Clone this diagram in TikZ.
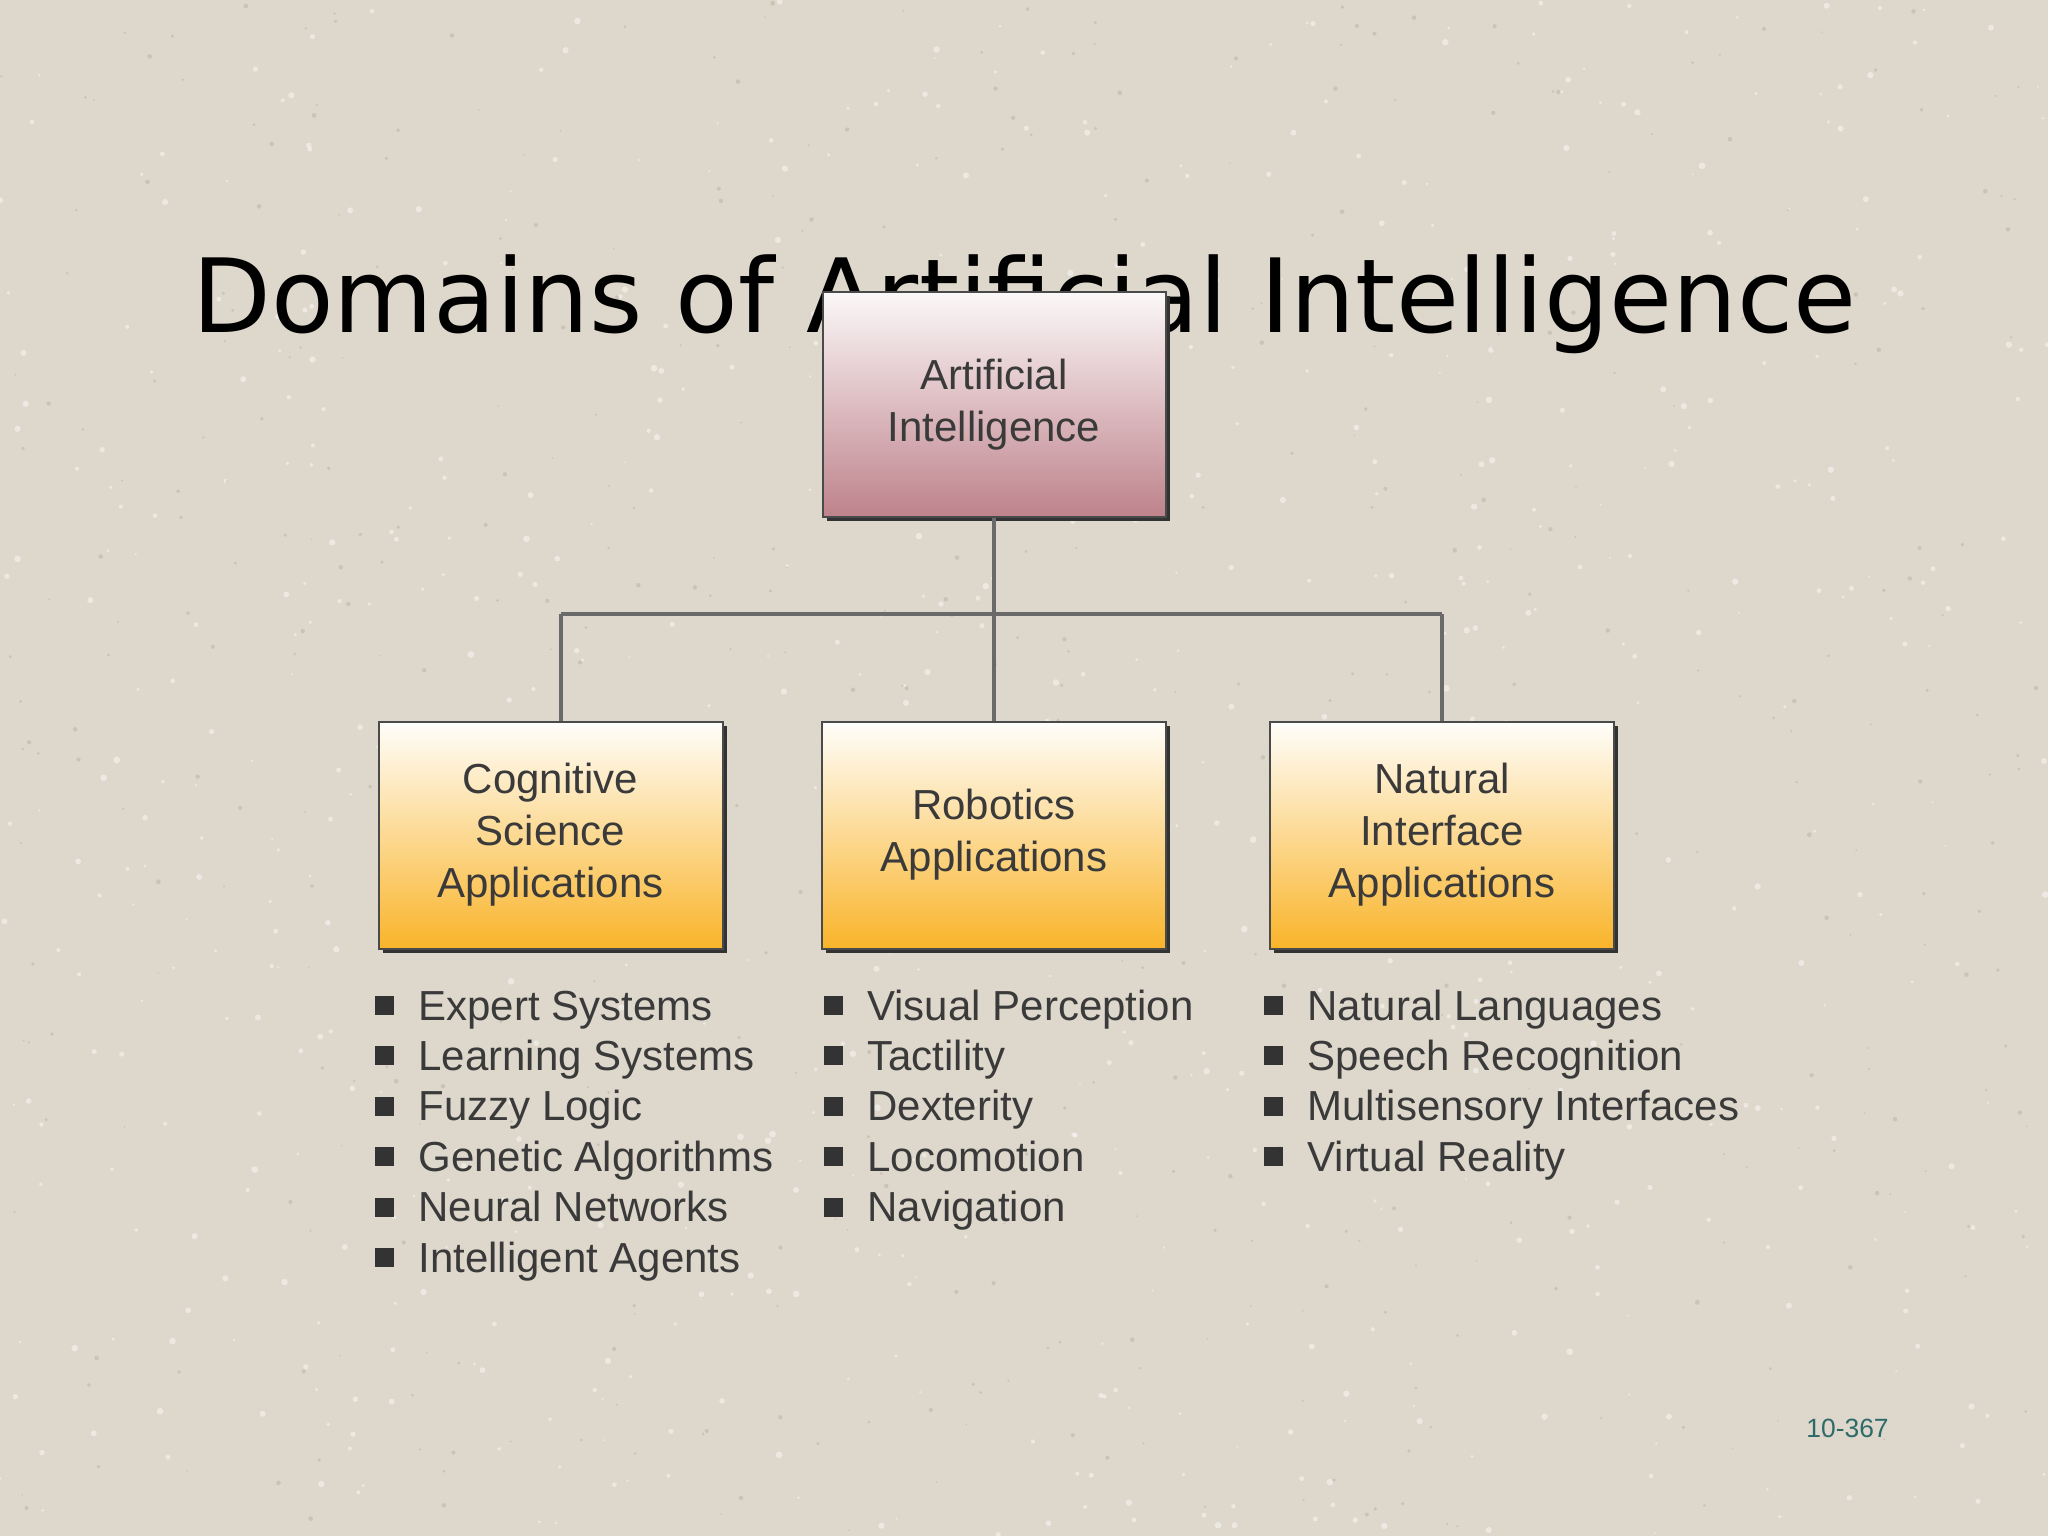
\documentclass[tikz,border=0pt]{standalone}
\usepackage{fontspec}
\setmainfont{Liberation Sans}
\newfontfamily\titlefont{DejaVu Sans}
\usetikzlibrary{shadows}
\definecolor{bgc}{HTML}{DED7CB}
\definecolor{speckd}{HTML}{B8B0A2}
\definecolor{txtc}{HTML}{3A3A3A}
\definecolor{bulc}{HTML}{333333}
\definecolor{linec}{HTML}{6A6A6A}
\definecolor{boxline}{HTML}{4A4A4A}
\definecolor{pinktop}{HTML}{FBF8F8}
\definecolor{pinkbot}{HTML}{BE828B}
\definecolor{ytop}{HTML}{FFFEFB}
\definecolor{ybot}{HTML}{F9B42A}
\definecolor{pagec}{HTML}{2E6A6A}
\newcommand{\bul}{{\color{bulc}\rule[2.5pt]{9.5pt}{9.5pt}}\hspace{12pt}}
\begin{document}
\begin{tikzpicture}[x=0.5pt,y=-0.5pt,
  box/.style={rectangle, draw=boxline, line width=1pt, minimum width=172pt,
    minimum height=113.5pt, inner sep=0pt, align=center, text=txtc,
    font=\fontsize{21}{26}\selectfont,
    drop shadow={shadow xshift=2.2pt, shadow yshift=-2.2pt, fill=black!80, opacity=1}},
  topbox/.style={box, top color=pinktop, bottom color=pinkbot},
  subbox/.style={box, top color=ytop, bottom color=ybot},
  conn/.style={draw=linec, line width=1.7pt},
  item/.style={anchor=base west, inner sep=0pt, text=txtc, font=\fontsize{21}{25}\selectfont},
]
\fill[bgc] (0,0) rectangle (2048,1536);
\useasboundingbox (0,0) rectangle (2048,1536);

% paper texture
\pgfmathsetseed{7}
\foreach \k in {1,...,700} {
  \pgfmathsetmacro{\px}{2048*rnd}
  \pgfmathsetmacro{\py}{1536*rnd}
  \pgfmathsetmacro{\pr}{0.5+1.2*rnd}
  \fill[white, opacity=0.45] (\px,\py) circle (\pr pt);
}
\foreach \k in {1,...,500} {
  \pgfmathsetmacro{\px}{2048*rnd}
  \pgfmathsetmacro{\py}{1536*rnd}
  \pgfmathsetmacro{\pr}{0.4+0.8*rnd}
  \fill[speckd, opacity=0.5] (\px,\py) circle (\pr pt);
}

\node[anchor=base west, inner sep=0pt, text=black, font=\titlefont\fontsize{51.2}{60}\selectfont] (title) at (192,332) {Domains of Artificial Intelligence};

\coordinate (barL) at (561,614);
\coordinate (barR) at (1442,614);

\node[topbox, minimum height=112.5pt, minimum width=171.5pt] (ai) at (994,404.5) {Artificial\\Intelligence};
\node[subbox] (cog) at (550.5,835) {Cognitive\\Science\\Applications};
\node[subbox] (rob) at (994,835) {Robotics\\Applications};
\node[subbox] (nat) at (1442,835) {Natural\\Interface\\Applications};

\draw[conn] (ai.south) -- (rob.north);
\draw[conn] (barL) -- (barR);
\draw[conn] (barL) -- (barL |- cog.north);
\draw[conn] (barR) -- (nat.north);

\foreach \t [count=\i] in {Expert Systems, Learning Systems, Fuzzy Logic, Genetic Algorithms, Neural Networks, Intelligent Agents}
  \node[item] (cs\i) at (375,{1020+50.4*(\i-1)}) {\bul\t};
\foreach \t [count=\i] in {Visual Perception, Tactility, Dexterity, Locomotion, Navigation}
  \node[item] (ro\i) at (824,{1020+50.4*(\i-1)}) {\bul\t};
\foreach \t [count=\i] in {Natural Languages, Speech Recognition, Multisensory Interfaces, Virtual Reality}
  \node[item] (na\i) at (1264,{1020+50.4*(\i-1)}) {\bul\t};

\node[anchor=base west, inner sep=0pt, text=pagec, font=\fontsize{13.2}{15}\selectfont] (pg) at (1806,1437) {10-367};
\end{tikzpicture}
\end{document}
